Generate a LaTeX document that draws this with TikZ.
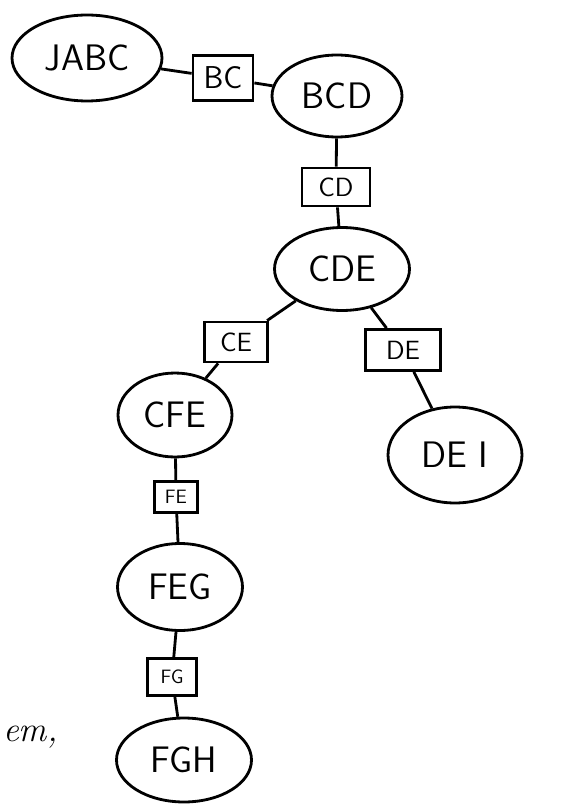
\documentclass[tikz,border=0pt]{standalone}
\usetikzlibrary{shapes.geometric}
\begin{document}
\begin{tikzpicture}[x=0.02cm,y=-0.02cm,
    clique/.style={draw, ellipse, line width=1.6pt, inner sep=0pt, font=\sffamily\fontsize{21}{24}\selectfont},
    sepbox/.style={draw, rectangle, line width=1.6pt, inner sep=1pt, font=\sffamily\fontsize{15}{17}\selectfont},
    link/.style={line width=1.6pt}]
    \useasboundingbox (0,0) rectangle (561,804);
    % cliques
    \node[clique, minimum width=3cm, minimum height=1.72cm] (jabc) at (87,58) {JABC};
    \node[clique, minimum width=2.6cm, minimum height=1.64cm] (bcd) at (337,96) {BCD};
    \node[clique, minimum width=2.7cm, minimum height=1.66cm] (cde) at (342,269) {CDE};
    \node[clique, minimum width=2.28cm, minimum height=1.68cm] (cfe) at (175,415) {CFE};
    \node[clique, minimum width=2.68cm, minimum height=1.92cm] (dei) at (455,455) {DE I};
    \node[clique, minimum width=2.5cm, minimum height=1.74cm] (feg) at (180,587) {FEG};
    \node[clique, minimum width=2.7cm, minimum height=1.68cm] (fgh) at (184,760) {FGH};
    % separators
    \node[sepbox, minimum width=1.2cm, minimum height=0.9cm, font=\sffamily\fontsize{18}{20}\selectfont] (bc) at (223,78) {BC};
    \node[sepbox, minimum width=1.36cm, minimum height=0.76cm] (cd) at (336,187) {CD};
    \node[sepbox, minimum width=1.26cm, minimum height=0.8cm] (ce) at (236,342) {CE};
    \node[sepbox, minimum width=1.5cm, minimum height=0.82cm] (de) at (403,350) {DE};
    \node[sepbox, minimum width=0.86cm, minimum height=0.62cm, font=\sffamily\fontsize{11}{13}\selectfont] (fe) at (176,497) {FE};
    \node[sepbox, minimum width=0.98cm, minimum height=0.74cm, font=\sffamily\fontsize{11}{13}\selectfont] (fg) at (172,677) {FG};
    \foreach \a/\b in {jabc/bc, bc/bcd, bcd/cd, cd/cde, cde/ce, cde/de, ce/cfe, de/dei, cfe/fe, fe/feg, feg/fg, fg/fgh}
        \draw[link] (\a) -- (\b);
    % text at the left edge
    \node[anchor=base east, inner sep=0pt, font=\itshape\fontsize{20}{24}\selectfont] (note) at (58,741) {em,};
\end{tikzpicture}
\end{document}
